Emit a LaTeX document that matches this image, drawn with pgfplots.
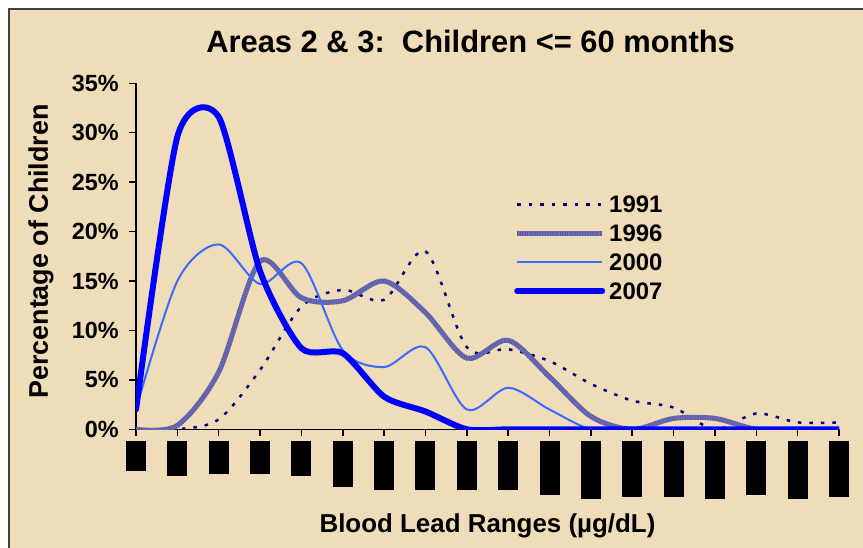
\documentclass[border=0pt]{standalone}
\usepackage{pgfplots}
\pgfplotsset{compat=1.18}
\usepackage{pgfplotstable}
\usepackage{fontspec}
\setmainfont{Liberation Sans}
\definecolor{parch}{HTML}{EEDDB8}
\definecolor{framegray}{HTML}{404040}
\definecolor{c1991}{HTML}{000080}
\definecolor{c1996}{HTML}{6E6EB6}
\definecolor{c1996d}{HTML}{4A4A98}
\definecolor{c2000}{HTML}{3A6BFF}
\definecolor{c2007}{HTML}{0000FF}

% percentage of children per blood lead range (18 ranges)
\pgfplotstableread{
i  y1991 y1996 y2000 y2007
0  0     0     2     2
1  0     0.4   15    29.6
2  1     5.8   18.7  31.6
3  6     17    14.7  16
4  12.4  13.3  16.8  8.2
5  14.1  13    8     7.7
6  13.1  15    6.3   3.3
7  18    11.8  8.3   1.8
8  8.3   7.2   2     0
9  8.1   9     4.2   0
10 6.9   5.3   2     0
11 4.6   1.3   0     0
12 2.9   0     0     0
13 2.2   1.1   0     0
14 0     1.1   0     0
15 1.6   0     0     0
16 0.7   0     0     0
17 0.7   0     0     0
}\leaddata

\newcommand{\lbox}[1]{\rule[-#1bp]{20bp}{#1bp}}

\begin{document}
\begin{tikzpicture}[x=1bp,y=1bp]
\path[use as bounding box] (0,0) rectangle (863,548);
\fill[white] (0,0) rectangle (863,548);
\fill[parch] (9,0) rectangle (863,538.5);
\draw[framegray, line width=2bp] (9,-3) -- (9,538.5) -- (866,538.5);

\begin{axis}[
    at={(136bp,118.7bp)}, anchor=south west,
    scale only axis,
    width=703bp, height=346bp,
    xmin=0, xmax=17, ymin=0, ymax=35,
    axis x line*=bottom, axis y line*=left,
    axis line style={line width=1.5bp, -},
    tick align=outside,
    major tick length=7bp,
    tick style={line width=1.5bp, black},
    xtick={0,...,17},
    xticklabels={\lbox{30},\lbox{34.3},\lbox{32.3},\lbox{32.3},\lbox{34.3},\lbox{45.3},
        \lbox{49},\lbox{48.3},\lbox{48.3},\lbox{49},\lbox{53.3},\lbox{57.3},
        \lbox{55.3},\lbox{55.3},\lbox{57.3},\lbox{53.3},\lbox{57.3},\lbox{55.3}},
    xticklabel style={anchor=north, inner sep=0pt, yshift=-5bp},
    ytick={0,5,...,35},
    yticklabel={\pgfmathprintnumber{\tick}\%},
    /pgf/number format/assume math mode=true,
    yticklabel style={font=\fontsize{23.5}{28}\selectfont\bfseries, inner sep=0pt, xshift=-10bp},
    title={Areas 2 \& 3:\ \ Children <= 60 months},
    title style={at={(axis description cs:0.476,1.073)}, anchor=base,
        font=\fontsize{31}{36}\selectfont\bfseries},
    xlabel={Blood Lead Ranges (µg/dL)},
    xlabel style={at={(axis description cs:0.5,-0.2997)}, anchor=base,
        font=\fontsize{26}{30}\selectfont\bfseries},
    ylabel={Percentage of Children},
    ylabel style={at={(axis description cs:-0.135,0.514)}, anchor=center,
        font=\fontsize{27}{31}\selectfont\bfseries},
    legend style={at={(axis description cs:0.5377,0.675)}, anchor=north west,
        draw=none, fill=none, inner sep=0pt,
        font=\fontsize{24}{28}\selectfont\bfseries,
        row sep=11.8bp,
        nodes={inner sep=0pt, text height=17bp, text depth=0bp},
        /tikz/every odd column/.append style={column sep=4bp}},
    legend cell align=left,
    legend image code/.code={\draw[#1] (0bp,0bp) -- (85bp,0bp);},
]
\addplot[c1991, line width=2.5bp, dash pattern=on 3.5bp off 8bp, smooth]
    table[x=i, y=y1991] {\leaddata};
\addlegendentry{1991}
\addplot[c1996, line width=5bp, smooth,
    legend image code/.code={
        \draw[c1996, line width=5bp] (0bp,0bp) -- (85bp,0bp);
        \draw[c1996d, line width=5bp, opacity=0.6, dash pattern=on 1bp off 1.5bp] (0bp,0bp) -- (85bp,0bp);}]
    table[x=i, y=y1996] {\leaddata};
\addlegendentry{1996}
\addplot[c1996d, line width=5bp, opacity=0.55, dash pattern=on 1bp off 1.5bp, smooth, forget plot]
    table[x=i, y=y1996] {\leaddata};
\addplot[c2000, line width=2bp, smooth]
    table[x=i, y=y2000] {\leaddata};
\addlegendentry{2000}
\addplot[c2007, line width=6bp, smooth, tension=0.42, line cap=round, line join=round]
    table[x=i, y=y2007] {\leaddata};
\addlegendentry{2007}
\end{axis}
\end{tikzpicture}
\end{document}
